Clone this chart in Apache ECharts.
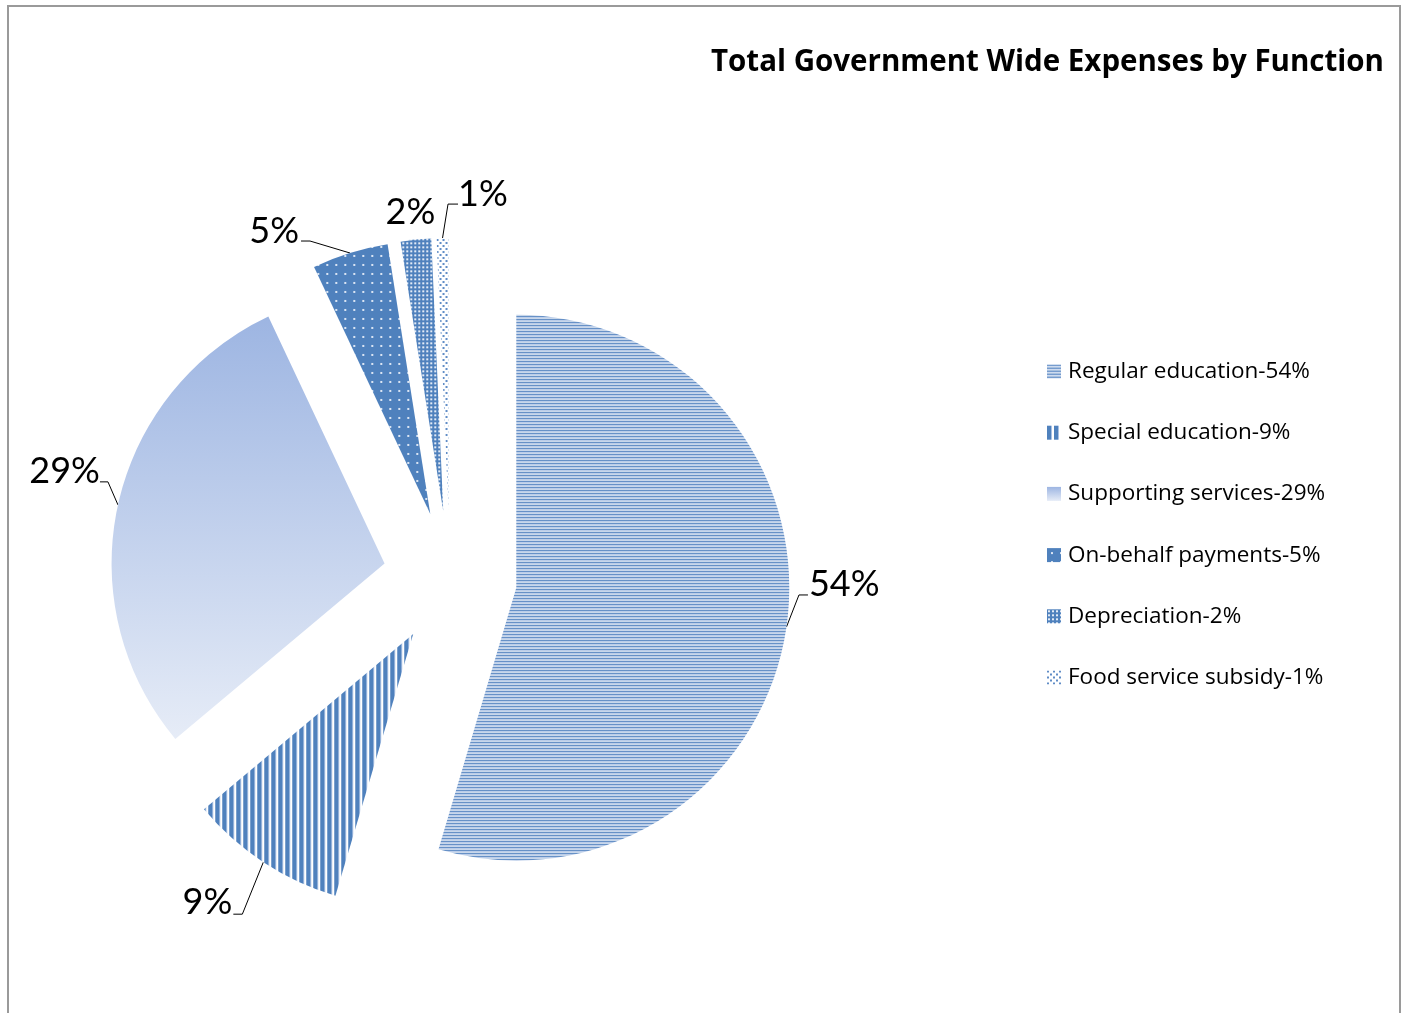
<!DOCTYPE html>
<html><head><meta charset="utf-8">
<script src="https://cdn.jsdelivr.net/npm/echarts@6/dist/echarts.min.js"></script>
<style>html,body{margin:0;padding:0;background:#fff}#c{width:1402px;height:1013px}</style>
</head><body><div id="c"></div>
<script>
var categories = ['Regular education', 'Special education', 'Supporting services', 'On-behalf payments', 'Depreciation', 'Food service subsidy'];
var values = [54.6, 9.3, 29.1, 4.5, 1.8, 0.7];
var pctLabels = ['54%', '9%', '29%', '5%', '2%', '1%'];
var titleText = 'Total Government Wide Expenses by Function';

function pat(w, h, draw) {
  var c = document.createElement('canvas'); c.width = w; c.height = h;
  var g = c.getContext('2d'); draw(g, w, h);
  return { image: c, repeat: 'repeat' };
}
var BLUE = '#4F81BD';
var fills = [
  pat(4, 3, function (g, w) { g.fillStyle = '#fff'; g.fillRect(0, 0, w, 3); g.fillStyle = BLUE; g.fillRect(0, 0, w, 1); g.fillStyle = '#9db7e0'; g.fillRect(0, 1, w, 1); }),
  pat(7, 4, function (g) { g.fillStyle = '#fff'; g.fillRect(0, 0, 7, 4); g.fillStyle = BLUE; g.fillRect(0, 0, 4, 4); g.fillStyle = '#a9c0e3'; g.fillRect(4, 0, 1, 4); }),
  { type: 'linear', x: 0, y: 0, x2: 0, y2: 1, colorStops: [{ offset: 0, color: '#9db5e2' }, { offset: 1, color: '#e6ecf7' }] },
  pat(9, 9, function (g) { g.fillStyle = BLUE; g.fillRect(0, 0, 9, 9); g.fillStyle = '#dce6f4'; g.fillRect(4, 4, 2, 2); }),
  pat(4, 4, function (g) { g.fillStyle = BLUE; g.fillRect(0, 0, 4, 4); g.fillStyle = '#e3ebf6'; g.fillRect(1, 1, 2, 2); }),
  pat(6, 6, function (g) { g.fillStyle = '#fff'; g.fillRect(0, 0, 6, 6); g.fillStyle = '#5f8cc6'; g.fillRect(0, 0, 2, 2); g.fillRect(3, 3, 2, 2); })
];
// leader-line styling relative to the library-computed anchor on each slice edge
var elbowOff = [[12.5, -32], [-21, 52], [-10, -23], [-40, -12], null, [5.5, -34]];
var endOff = [[21.5, -32], [-30, 52], [-18, -23], [-49, -12], null, [15.5, -34]];
var textOff = [[22.5, -42.5], [-31, 40.5], [-18, -33], [-51, -21.5], [-5.5, -27.5], [15.5, -43.5]];
var textAlign = ['left', 'right', 'right', 'right', 'center', 'left'];

var data = categories.map(function (n, i) {
  return { name: n, value: values[i], selected: true, itemStyle: { color: fills[i] }, label: { formatter: pctLabels[i] } };
});
var chart = echarts.init(document.getElementById('c'));
chart.setOption({
  animation: false,
  title: { text: titleText, right: 13, top: 43, textStyle: { fontFamily: 'Open Sans', fontWeight: 'bold', fontSize: 29.5, color: '#000' } },
  legend: {
    orient: 'vertical', left: 1047, top: 360, padding: 0, itemGap: 38.2, itemWidth: 14, itemHeight: 14, icon: 'rect',
    selectedMode: false,
    formatter: function (n) { return n + '-' + pctLabels[categories.indexOf(n)]; },
    textStyle: { fontFamily: 'Open Sans', fontSize: 22.5, lineHeight: 22.2, color: '#000', padding: [0, 0, 0, 2] }
  },
  graphic: [{ type: 'rect', shape: { x: 8, y: 6, width: 1392, height: 1030 }, style: { fill: 'none', stroke: '#9a9a9a', lineWidth: 2 }, silent: true }],
  series: [{
    type: 'pie', center: [450, 578], radius: 273, startAngle: 90, clockwise: true,
    selectedMode: 'multiple', selectedOffset: 67,
    emphasis: { disabled: true }, select: { itemStyle: {} },
    label: { show: true, position: 'outside', fontFamily: 'Lato', fontSize: 36, color: '#000' },
    labelLine: { show: true, length: 12, length2: 8, lineStyle: { color: '#000', width: 1 } },
    labelLayout: function (p) {
      var i = p.dataIndex;
      var a = p.labelLinePoints[0];
      var r = p.labelRect;
      var tx = a[0] + textOff[i][0], ty = a[1] + textOff[i][1];
      var cur = textAlign[i] === 'left' ? r.x : textAlign[i] === 'right' ? r.x + r.width : r.x + r.width / 2;
      var res = { dx: tx - cur, dy: ty - (r.y + r.height / 2) };
      if (elbowOff[i]) {
        res.labelLinePoints = [[a[0], a[1]], [a[0] + elbowOff[i][0], a[1] + elbowOff[i][1]], [a[0] + endOff[i][0], a[1] + endOff[i][1]]];
      } else {
        res.labelLinePoints = [[a[0], a[1]], [a[0], a[1]], [a[0], a[1]]];
      }
      return res;
    },
    data: data
  }]
});
</script></body></html>
